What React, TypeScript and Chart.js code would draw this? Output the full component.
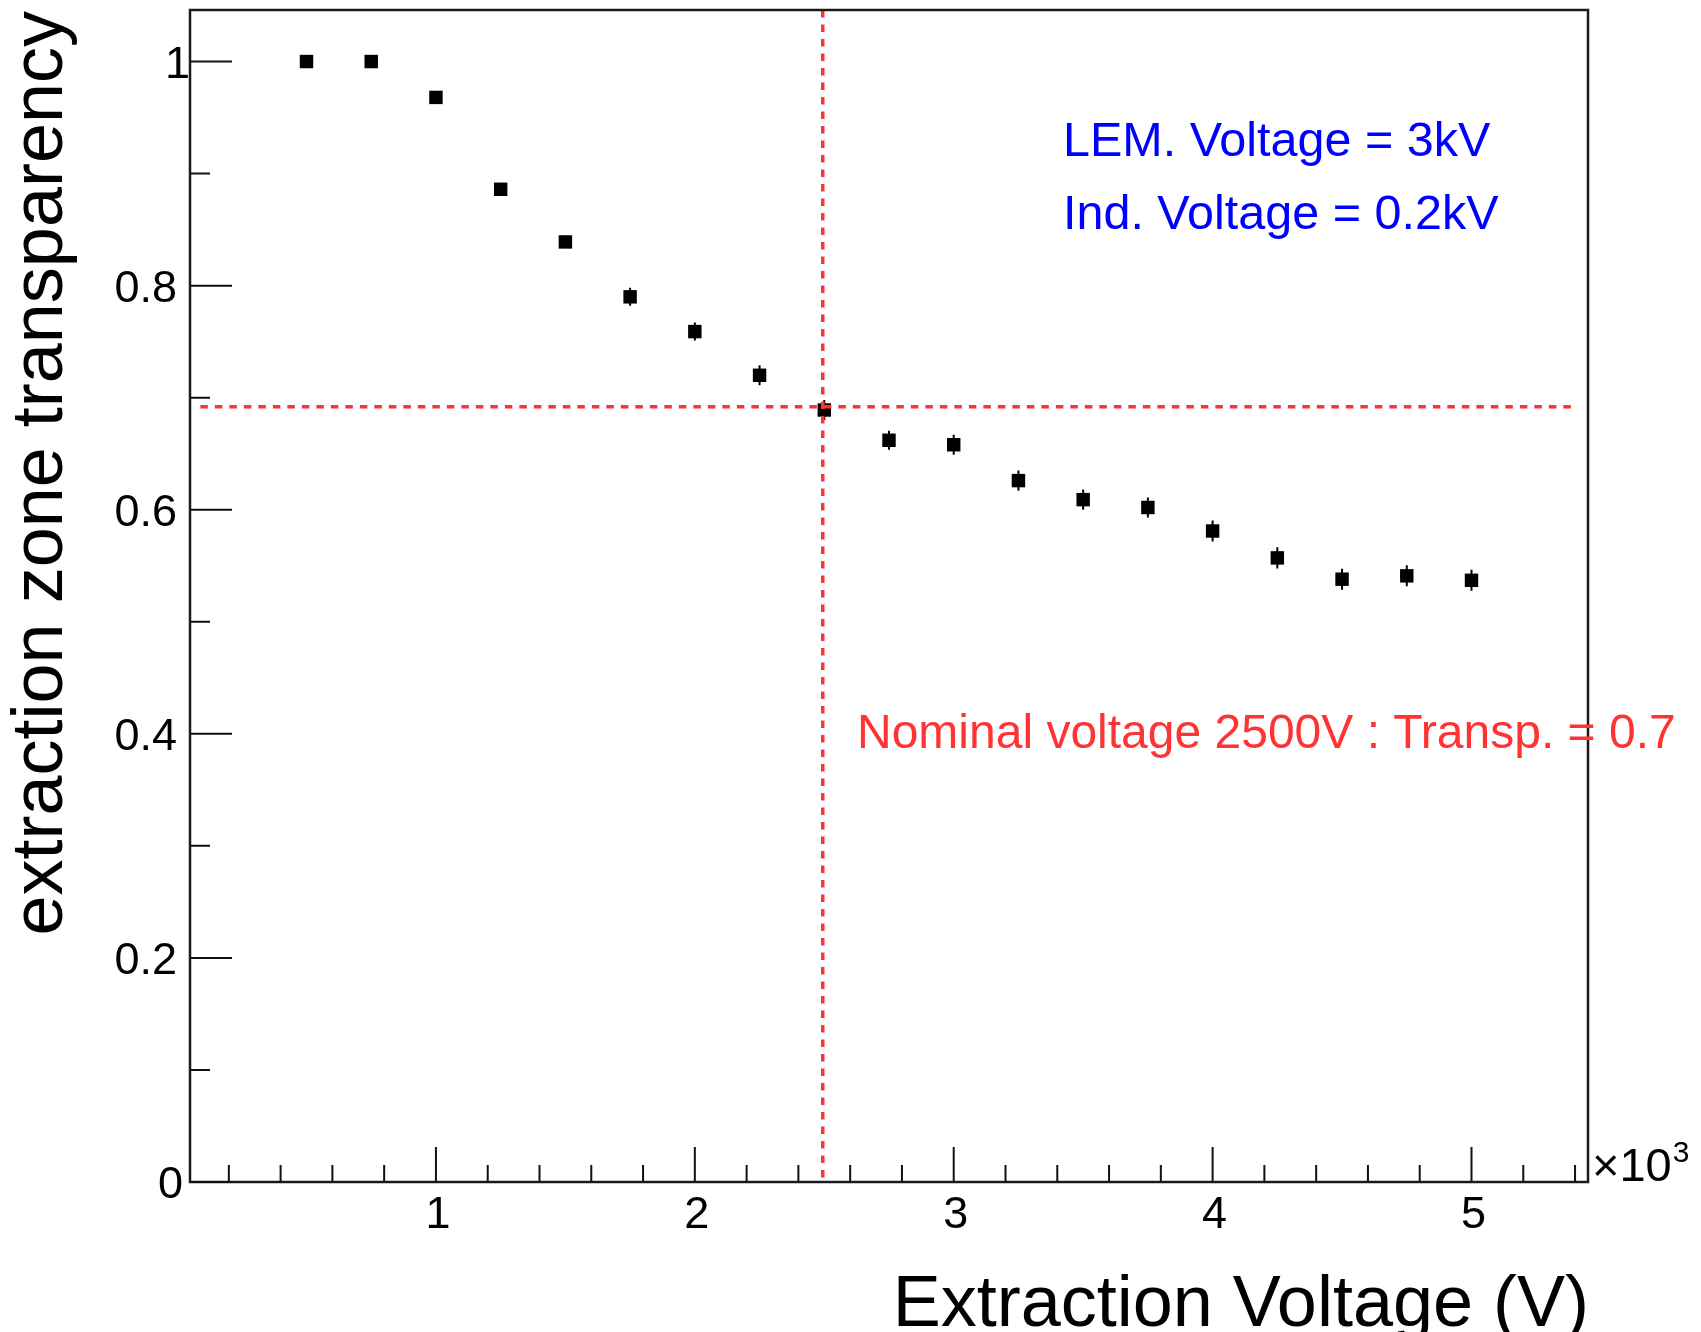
import React, { useEffect, useRef } from "react";
import { Chart, registerables } from "chart.js";

Chart.register(...registerables);

// ---- data ----
const voltages = [500, 750, 1000, 1250, 1500, 1750, 2000, 2250, 2500, 2750, 3000, 3250, 3500, 3750, 4000, 4250, 4500, 4750, 5000];
const transparency = [1.0, 1.0, 0.968, 0.886, 0.839, 0.79, 0.759, 0.72, 0.689, 0.662, 0.658, 0.626, 0.609, 0.602, 0.581, 0.557, 0.538, 0.541, 0.537];
const transpErrors = [0.003, 0.003, 0.004, 0.005, 0.005, 0.008, 0.008, 0.009, 0.009, 0.0085, 0.009, 0.009, 0.009, 0.009, 0.0094, 0.0094, 0.0094, 0.0094, 0.0094];

const xMajorTicks = [1000, 2000, 3000, 4000, 5000];
const xTickLabels = ["1", "2", "3", "4", "5"];
const xMinorTicks = [200, 400, 600, 800, 1200, 1400, 1600, 1800, 2200, 2400, 2600, 2800, 3200, 3400, 3600, 3800, 4200, 4400, 4600, 4800, 5200, 5400];
const yMajorTicks = [0, 0.2, 0.4, 0.6, 0.8, 1.0];
const yTickLabels = ["0", "0.2", "0.4", "0.6", "0.8", "1"];
const yMinorTicks = [0.1, 0.3, 0.5, 0.7, 0.9];

const xRange = [50, 5450];
const yRange = [0, 1.046];

const nominalVoltage = 2494;
const nominalTransp = 0.692;
const hLineX = [90, 5410];

const xTitle = "Extraction Voltage (V)";
const yTitle = "extraction zone transparency";
const infoLines = ["LEM. Voltage = 3kV", "Ind. Voltage = 0.2kV"];
const nominalText = "Nominal voltage 2500V : Transp. = 0.7";

const FONT = "'Liberation Sans', Arial, Helvetica, sans-serif";
const RED = "#ff3333";

const W = 1701;
const H = 1332;

const rootPlugin = {
  id: "rootStyle",
  beforeDatasetsDraw(chart: any) {
    const ctx = chart.ctx;
    const xs = chart.scales.x;
    const ys = chart.scales.y;
    ctx.save();
    ctx.strokeStyle = "#000";
    ctx.lineWidth = 2;
    ctx.beginPath();
    for (let i = 0; i < voltages.length; i++) {
      const px = xs.getPixelForValue(voltages[i]);
      ctx.moveTo(px, ys.getPixelForValue(transparency[i] + transpErrors[i]));
      ctx.lineTo(px, ys.getPixelForValue(transparency[i] - transpErrors[i]));
    }
    ctx.stroke();
    ctx.restore();
  },
  afterDraw(chart: any) {
    const ctx = chart.ctx;
    const xs = chart.scales.x;
    const ys = chart.scales.y;
    const a = chart.chartArea;
    ctx.save();
    // frame
    ctx.strokeStyle = "#1a1a1a";
    ctx.lineWidth = 2.5;
    ctx.strokeRect(a.left, a.top, a.right - a.left, a.bottom - a.top);

    // ticks
    ctx.strokeStyle = "#111";
    ctx.lineWidth = 2;
    ctx.beginPath();
    for (const v of yMajorTicks) {
      const py = ys.getPixelForValue(v);
      ctx.moveTo(a.left, py);
      ctx.lineTo(a.left + 42, py);
    }
    for (const v of yMinorTicks) {
      const py = ys.getPixelForValue(v);
      ctx.moveTo(a.left, py);
      ctx.lineTo(a.left + 20, py);
    }
    for (const v of xMajorTicks) {
      const px = xs.getPixelForValue(v);
      ctx.moveTo(px, a.bottom);
      ctx.lineTo(px, a.bottom - 35);
    }
    for (const v of xMinorTicks) {
      const px = xs.getPixelForValue(v);
      ctx.moveTo(px, a.bottom);
      ctx.lineTo(px, a.bottom - 17);
    }
    ctx.stroke();

    // tick labels
    ctx.fillStyle = "#000";
    ctx.font = `45px ${FONT}`;
    ctx.textBaseline = "alphabetic";
    ctx.textAlign = "right";
    yMajorTicks.forEach((v, i) => {
      const py = ys.getPixelForValue(v);
      const lab = yTickLabels[i];
      const shift = lab.includes(".") ? -13 : lab === "1" ? 0 : -7;
      ctx.fillText(lab, a.left + shift, py + 16);
    });
    ctx.textAlign = "center";
    xMajorTicks.forEach((v, i) => {
      const px = xs.getPixelForValue(v);
      ctx.fillText(xTickLabels[i], px + 2, a.bottom + 46);
    });

    // x10^3
    ctx.textAlign = "left";
    ctx.font = `47px ${FONT}`;
    ctx.fillText("\u00d710", a.right + 4, a.bottom - 1);
    const w = ctx.measureText("\u00d710").width;
    ctx.font = `30px ${FONT}`;
    ctx.fillText("3", a.right + 4 + w + 1, a.bottom - 20);

    // axis titles
    ctx.font = `72px ${FONT}`;
    ctx.textAlign = "right";
    ctx.fillText(xTitle, a.right + 1, a.bottom + 144);
    ctx.save();
    ctx.translate(a.left - 128, a.top + 1);
    ctx.rotate(-Math.PI / 2);
    ctx.textAlign = "right";
    ctx.fillText(yTitle, 0, 0);
    ctx.restore();

    // annotations
    ctx.textAlign = "left";
    ctx.font = `48.5px ${FONT}`;
    ctx.fillStyle = "#0000ff";
    ctx.fillText(infoLines[0], a.left + 873, a.top + 146);
    ctx.fillText(infoLines[1], a.left + 873, a.top + 219);
    ctx.font = `48px ${FONT}`;
    ctx.fillStyle = RED;
    ctx.fillText(nominalText, a.left + 667, a.top + 738);
    ctx.restore();
  },
};

export default function App() {
  const canvasRef = useRef<HTMLCanvasElement | null>(null);

  useEffect(() => {
    const canvas = canvasRef.current;
    if (!canvas) return;
    const chart = new Chart(canvas, {
      type: "scatter",
      data: {
        datasets: [
          {
            label: "nominal transparency",
            data: [
              { x: hLineX[0], y: nominalTransp },
              { x: hLineX[1], y: nominalTransp },
            ],
            showLine: true,
            borderColor: RED,
            borderWidth: 3.5,
            borderDash: [7.5, 7],
            pointRadius: 0,
            order: 0,
          },
          {
            label: "nominal voltage",
            data: [
              { x: nominalVoltage, y: yRange[1] },
              { x: nominalVoltage, y: yRange[0] },
            ],
            showLine: true,
            borderColor: RED,
            borderWidth: 3.5,
            borderDash: [7.5, 7],
            pointRadius: 0,
            order: 0,
          },
          {
            label: "transparency",
            data: voltages.map((v, i) => ({ x: v, y: transparency[i] })),
            pointStyle: "rect",
            pointRadius: 9.5,
            pointBackgroundColor: "#000",
            pointBorderWidth: 0,
            backgroundColor: "#000",
            borderWidth: 0,
            order: 1,
          },
        ],
      },
      options: {
        responsive: false,
        animation: false,
        devicePixelRatio: 1,
        layout: { padding: { left: 190, top: 10, right: W - 1588, bottom: H - 1182 } },
        scales: {
          x: { type: "linear", min: xRange[0], max: xRange[1], display: false },
          y: { type: "linear", min: yRange[0], max: yRange[1], display: false },
        },
        plugins: {
          legend: { display: false },
          tooltip: { enabled: false },
        },
      },
      plugins: [rootPlugin],
    } as any);
    return () => chart.destroy();
  }, []);

  return (
    <div>
      <canvas
        ref={canvasRef}
        width={W}
        height={H}
        style={{ display: "block", position: "absolute", left: 0, top: 0 }}
      />
    </div>
  );
}
